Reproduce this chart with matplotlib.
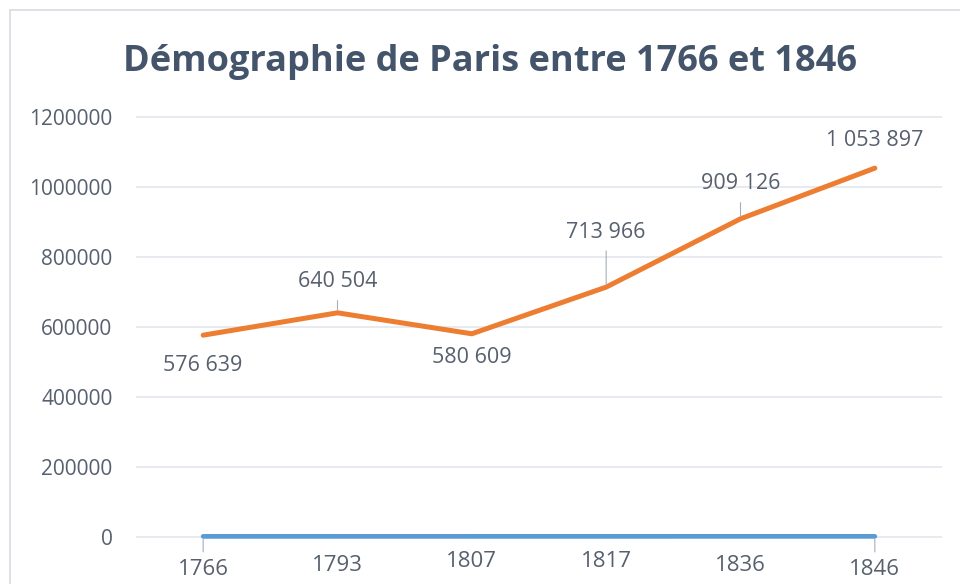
import matplotlib.pyplot as plt
from matplotlib.patches import Rectangle

# Data
years = [1766, 1793, 1807, 1817, 1836, 1846]
population = [576639, 640504, 580609, 713966, 909126, 1053897]
pop_labels = ["576 639", "640 504", "580 609", "713 966", "909 126", "1 053 897"]
pop_offsets = [-30, 31, -24, 55, 35, 28]       # label offsets in pixels
pop_leaders = [False, True, False, True, True, False]
year_offsets = [-33, -29, -25, -25, -29, -33]
year_leaders = [True, False, False, False, False, True]
yticks = [0, 200000, 400000, 600000, 800000, 1000000, 1200000]

orange = "#ED7D31"
blue = "#5B9BD5"
text_col = "#56606e"
title_col = "#44546A"
grid_col = "#E3E6EC"

plt.rcParams["font.family"] = ["Open Sans", "DejaVu Sans"]

fig = plt.figure(figsize=(9.6, 5.84), dpi=100)
fig.patches.append(Rectangle((10 / 960, -0.1), 1.2, 1 - 10 / 584 + 0.1,
                             transform=fig.transFigure, fill=False,
                             edgecolor="#D9DCE3", lw=1.2))
ax = fig.add_axes([136 / 960, 1 - 545 / 584, 806 / 960, 436 / 584])

x = list(range(len(years)))
ax.plot(x, population, color=orange, lw=3.6, solid_capstyle="round", zorder=3)
ax.plot(x, years, color=blue, lw=3.4, solid_capstyle="round", zorder=3)

ax.set_xlim(-0.5, len(years) - 0.5)
ax.set_ylim(-1200000 * 8 / 420, 1200000 * 428 / 420)
ax.set_yticks(yticks)
ax.set_yticklabels([str(v) for v in yticks], fontsize=15, color=text_col)
ax.tick_params(axis="y", length=0, pad=17)
ax.set_xticks([])
ax.grid(axis="y", color=grid_col, lw=1.2)
ax.set_axisbelow(True)
for s in ax.spines.values():
    s.set_visible(False)

for xi, v, lab, off, lead in zip(x, population, pop_labels, pop_offsets, pop_leaders):
    arrow = dict(arrowstyle="-", color="#A6AEBB", lw=0.8, shrinkA=4, shrinkB=2) if lead else None
    ax.annotate(lab, (xi, v), xytext=(0, off), textcoords="offset pixels",
                ha="center", va="center", fontsize=15.5, color=text_col,
                arrowprops=arrow, zorder=4)

for xi, v, off, lead in zip(x, years, year_offsets, year_leaders):
    arrow = dict(arrowstyle="-", color="#A6AEBB", lw=0.8, shrinkA=3, shrinkB=2) if lead else None
    ax.annotate(str(v), (xi, v), xytext=(0, off), textcoords="offset pixels",
                ha="center", va="center", fontsize=16, color=text_col,
                arrowprops=arrow, zorder=4)

fig.text(490 / 960, 1 - 62 / 584, "Démographie de Paris entre 1766 et 1846",
         ha="center", va="center", fontsize=26, fontweight="bold", color=title_col)

plt.savefig("out.png", dpi=100)
plt.close()
